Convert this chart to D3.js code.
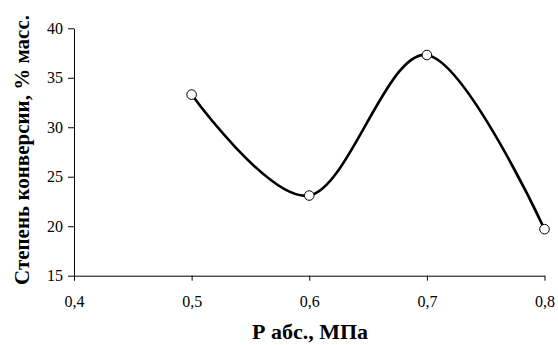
<!DOCTYPE html>
<html><head><meta charset="utf-8"><script src="https://cdn.jsdelivr.net/npm/d3@7"></script></head>
<body style="margin:0">
<svg width="558" height="345"></svg>
<script>
// pressure, MPa (abs) and conversion, % mass
const pressure = [0.5, 0.6, 0.7, 0.8];
const conversion = [33.3, 23.1, 37.3, 19.7];
const xTicks = [0.4, 0.5, 0.6, 0.7, 0.8];
const yTicks = [15, 20, 25, 30, 35, 40];

const svg = d3.select("svg");
const plotLeft = 74, plotRight = 544.5, plotTop = 28.3, plotBottom = 275.7;

const x = d3.scaleLinear().domain([0.4, 0.8]).range([plotLeft, plotRight]);
const y = d3.scaleLinear().domain([15, 40]).range([plotBottom, plotTop]);
const fmt = d => d3.format(".1f")(d).replace(".", ",");

const xAxis = svg.append("g")
  .attr("transform", `translate(0,${plotBottom})`)
  .call(d3.axisBottom(x).tickValues(xTicks).tickFormat(fmt).tickSize(5).tickPadding(15).tickSizeOuter(0));
const yAxis = svg.append("g")
  .attr("transform", `translate(${plotLeft},0)`)
  .call(d3.axisLeft(y).tickValues(yTicks).tickSize(6).tickPadding(5).tickSizeOuter(0));

[xAxis, yAxis].forEach(a => {
  a.attr("font-family", "Liberation Serif").attr("font-size", 16);
  a.select(".domain").attr("stroke", "#000").attr("stroke-width", 1);
  a.selectAll(".tick line").attr("stroke", "#000");
  a.selectAll("text").attr("fill", "#000").attr("font-family", "Liberation Serif")
    .style("font-family", '"Liberation Serif"').style("font-size", "16px");
});

const pts = pressure.map((p, i) => [x(p), y(conversion[i])]);
svg.append("path")
  .attr("d", d3.line().curve(d3.curveCardinal.tension(0))(pts))
  .attr("fill", "none").attr("stroke", "#000").attr("stroke-width", 2.6);

svg.selectAll("circle").data(pts).join("circle")
  .attr("cx", d => d[0]).attr("cy", d => d[1]).attr("r", 4.8)
  .attr("fill", "#fff").attr("stroke", "#000").attr("stroke-width", 1);

svg.append("text")
  .attr("x", 310).attr("y", 339)
  .attr("text-anchor", "middle").attr("font-family", "Liberation Serif")
  .style("font-family", '"Liberation Serif"').style("font-size", "22px").style("font-weight", "bold")
  .text("Р абс., МПа");

svg.append("text")
  .attr("transform", "translate(29,150) rotate(-90)")
  .attr("text-anchor", "middle").attr("font-family", "Liberation Serif")
  .style("font-family", '"Liberation Serif"').style("font-size", "21px").style("font-weight", "bold")
  .text("Степень конверсии, % масс.");
</script>
</body>
</html>
